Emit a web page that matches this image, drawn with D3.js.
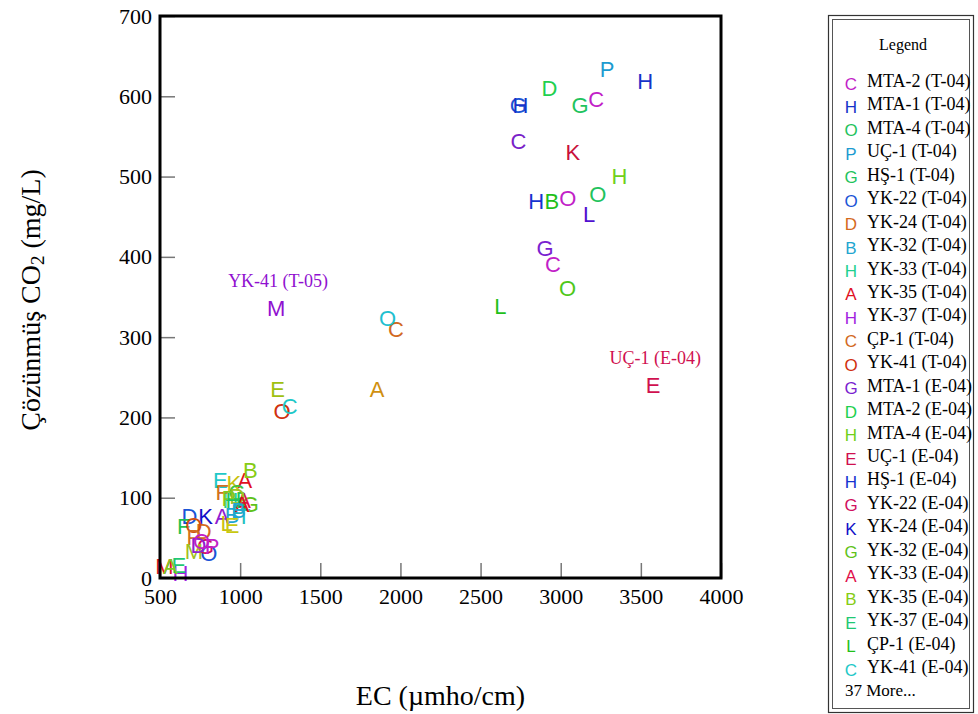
<!DOCTYPE html>
<html>
<head>
<meta charset="utf-8">
<script src="https://cdn.jsdelivr.net/npm/d3@7"></script>
<style>
  html, body { margin: 0; padding: 0; background: #fff; }
  svg { display: block; }
</style>
</head>
<body>
<svg id="chart" width="978" height="714"></svg>
<script>
// ---- Data ----
const legendNames = [
  "MTA-2 (T-04)", "MTA-1 (T-04)", "MTA-4 (T-04)", "UÇ-1 (T-04)", "HŞ-1 (T-04)",
  "YK-22 (T-04)", "YK-24 (T-04)", "YK-32 (T-04)", "YK-33 (T-04)", "YK-35 (T-04)",
  "YK-37 (T-04)", "ÇP-1 (T-04)", "YK-41 (T-04)",
  "MTA-1 (E-04)", "MTA-2 (E-04)", "MTA-4 (E-04)", "UÇ-1 (E-04)", "HŞ-1 (E-04)",
  "YK-22 (E-04)", "YK-24 (E-04)", "YK-32 (E-04)", "YK-33 (E-04)", "YK-35 (E-04)",
  "YK-37 (E-04)", "ÇP-1 (E-04)", "YK-41 (E-04)"
];
// marker letters for all series (26 in legend + 37 more)
const markerLetters = [
  "C","H","O","P","G","O","D","B","H","A","H","C","O",
  "G","D","H","E","H","G","K","G","A","B","E","L","C",
  "G","H","C","K","B","O","L","C","O","M","O","E","A","E","K","F","G","D","P","A","T","P","L","E",
  "D","F","O","P","M","M","A","D","O","A","P","H","B"
];
const markerColors = [
  "#c21fc8","#1633c9","#1fc35e","#1c9bd0","#1fc35e","#1a55d6","#d4691e","#1fa6d0","#1fd08f","#e0101e","#a21fe0","#d2691e","#d0300f",
  "#7a1fd0","#1fd04f","#6fd01a","#d0104f","#1633d0","#d01060","#1010c8","#5fc21a","#e0104a","#86cc14","#1fc873","#1fc01a","#1fc8c8",
  "#1a55d6","#1633c9","#7a1fc8","#c8103c","#1fc01a","#c21fc8","#5010d0","#c21fc8","#4fc81a","#9010d0","#1fc0d0","#a0c010","#d09010",
  "#1fc8c8","#c8c010","#d07020","#40c040","#a0c020","#80c820","#9020d0","#1fc0c0","#1fb0c0","#c8c010","#c8c810",
  "#1a55d6","#1fc050","#d05010","#d07020","#a0c020","#e01020","#80c820","#9020d0","#c21fc8","#e01020","#c21fc8","#1fc35e","#1fa6d0"
];
const ecValues = [
  3221, 3527, 3232, 3290, 3121, 804, 773, 950, 940, 1029, 628, 1972, 1262,
  2903, 2930, 3366, 3577, 2847, 784, 784, 1064, 1022, 1064, 617, 2623, 1309,
  2735, 2748, 2737, 3076, 2945, 3045, 3177, 2951, 3042, 1224, 1920, 1234, 1854,
  877, 960, 888, 981, 981, 929, 888, 1022, 991, 915, 950,
  684, 648, 711, 711, 711, 528, 565, 740, 760, 1012, 825, 958, 990
];
const co2Values = [
  596, 619, 478, 633, 588, 31, 58, 78, 96, 122, 5, 310, 208,
  411, 610, 500, 240, 469, 39, 76, 91, 97, 134, 16, 338, 213,
  588, 588, 544, 530, 469, 473, 453, 390, 360, 336, 323, 235, 235,
  122, 118, 107, 107, 101, 99, 76, 76, 81, 68, 65,
  76, 64, 66, 51, 33, 14, 14, 40, 45, 91, 39, 97, 84
];
const annotations = [
  { index: 35, text: "YK-41 (T-05)" },
  { index: 16, text: "UÇ-1 (E-04)" }
];
const xTicks = [500, 1000, 1500, 2000, 2500, 3000, 3500, 4000];
const yTicks = [0, 100, 200, 300, 400, 500, 600, 700];
const xTitle = "EC (µmho/cm)";
const legendTitle = "Legend";

// ---- Layout ----
const svg = d3.select("#chart");
const L = 160, R = 721, T = 16, B = 578;
const x = d3.scaleLinear().domain([500, 4000]).range([L, R]);
const y = d3.scaleLinear().domain([0, 700]).range([B, T]);
const serif = "'Liberation Serif', 'Times New Roman', serif";
const sans = "'Liberation Sans', Arial, sans-serif";

// axes with inward ticks
const xAxis = d3.axisBottom(x).tickValues(xTicks).tickFormat(d3.format("d"))
  .tickSizeInner(-15).tickSizeOuter(0).tickPadding(10);
const gx = svg.append("g").attr("transform", `translate(0,${B})`).call(xAxis);
gx.select(".domain").remove();
gx.selectAll(".tick line").attr("stroke", "#777").attr("stroke-width", 1.5);
gx.selectAll(".tick text").attr("font-family", serif).attr("font-size", 22).attr("fill", "#000");

const yAxis = d3.axisLeft(y).tickValues(yTicks).tickFormat(d3.format("d"))
  .tickSizeInner(-15).tickSizeOuter(0).tickPadding(8);
const gy = svg.append("g").attr("transform", `translate(${L},0)`).call(yAxis);
gy.select(".domain").remove();
gy.selectAll(".tick line").attr("stroke", "#777").attr("stroke-width", 1.5);
gy.selectAll(".tick text").attr("font-family", serif).attr("font-size", 22).attr("fill", "#000");

// points (letters)
const idx = d3.range(ecValues.length);
svg.append("g").selectAll("text").data(idx).join("text")
  .attr("x", i => x(ecValues[i]))
  .attr("y", i => y(co2Values[i]))
  .attr("text-anchor", "middle")
  .attr("dominant-baseline", "central")
  .attr("font-family", sans)
  .attr("font-size", 22)
  .attr("fill", i => markerColors[i])
  .text(i => markerLetters[i]);

// annotations
svg.append("g").selectAll("text").data(annotations).join("text")
  .attr("x", d => x(ecValues[d.index]) + 2)
  .attr("y", d => y(co2Values[d.index]) - 27)
  .attr("text-anchor", "middle")
  .attr("dominant-baseline", "central")
  .attr("font-family", serif)
  .attr("font-size", 18)
  .attr("fill", d => markerColors[d.index])
  .text(d => d.text);

// frame
svg.append("rect").attr("x", L).attr("y", T).attr("width", R - L).attr("height", B - T)
  .attr("fill", "none").attr("stroke", "#000").attr("stroke-width", 3);

// axis titles
svg.append("text").attr("x", (L + R) / 2).attr("y", 695)
  .attr("text-anchor", "middle").attr("dominant-baseline", "central")
  .attr("font-family", serif).attr("font-size", 28).text(xTitle);

const yt = svg.append("text").attr("transform", "translate(30,300) rotate(-90)")
  .attr("text-anchor", "middle").attr("dominant-baseline", "central")
  .attr("font-family", serif).attr("font-size", 28);
yt.append("tspan").text("Çözünmüş CO");
yt.append("tspan").attr("font-size", 19).attr("dy", 7).text("2");
yt.append("tspan").attr("dy", -7).text(" (mg/L)");

// legend
const lg = svg.append("g");
lg.append("rect").attr("x", 828.5).attr("y", 15.5).attr("width", 145).attr("height", 697)
  .attr("fill", "#fff").attr("stroke", "#333").attr("stroke-width", 1.2);
lg.append("rect").attr("x", 832.5).attr("y", 19.5).attr("width", 137).attr("height", 689)
  .attr("fill", "none").attr("stroke", "#555").attr("stroke-width", 1);
lg.append("text").attr("x", 903).attr("y", 44).attr("text-anchor", "middle")
  .attr("dominant-baseline", "central").attr("font-family", serif).attr("font-size", 16)
  .text(legendTitle);
const rowY = d3.scaleLinear().domain([0, legendNames.length - 1]).range([81, 667]);
const rows = lg.selectAll("g.row").data(legendNames).join("g").attr("class", "row")
  .attr("transform", (d, i) => `translate(0,${rowY(i)})`);
rows.append("text").attr("x", 851).attr("y", 3).attr("text-anchor", "middle")
  .attr("dominant-baseline", "central").attr("font-family", sans).attr("font-size", 17)
  .attr("fill", (d, i) => markerColors[i]).text((d, i) => markerLetters[i]);
rows.append("text").attr("x", 867).attr("y", 0).attr("dominant-baseline", "central")
  .attr("font-family", serif).attr("font-size", 18).attr("fill", "#000").text(d => d);
lg.append("text").attr("x", 845).attr("y", 690).attr("dominant-baseline", "central")
  .attr("font-family", serif).attr("font-size", 17)
  .text(`${ecValues.length - legendNames.length} More...`);
</script>
</body>
</html>
